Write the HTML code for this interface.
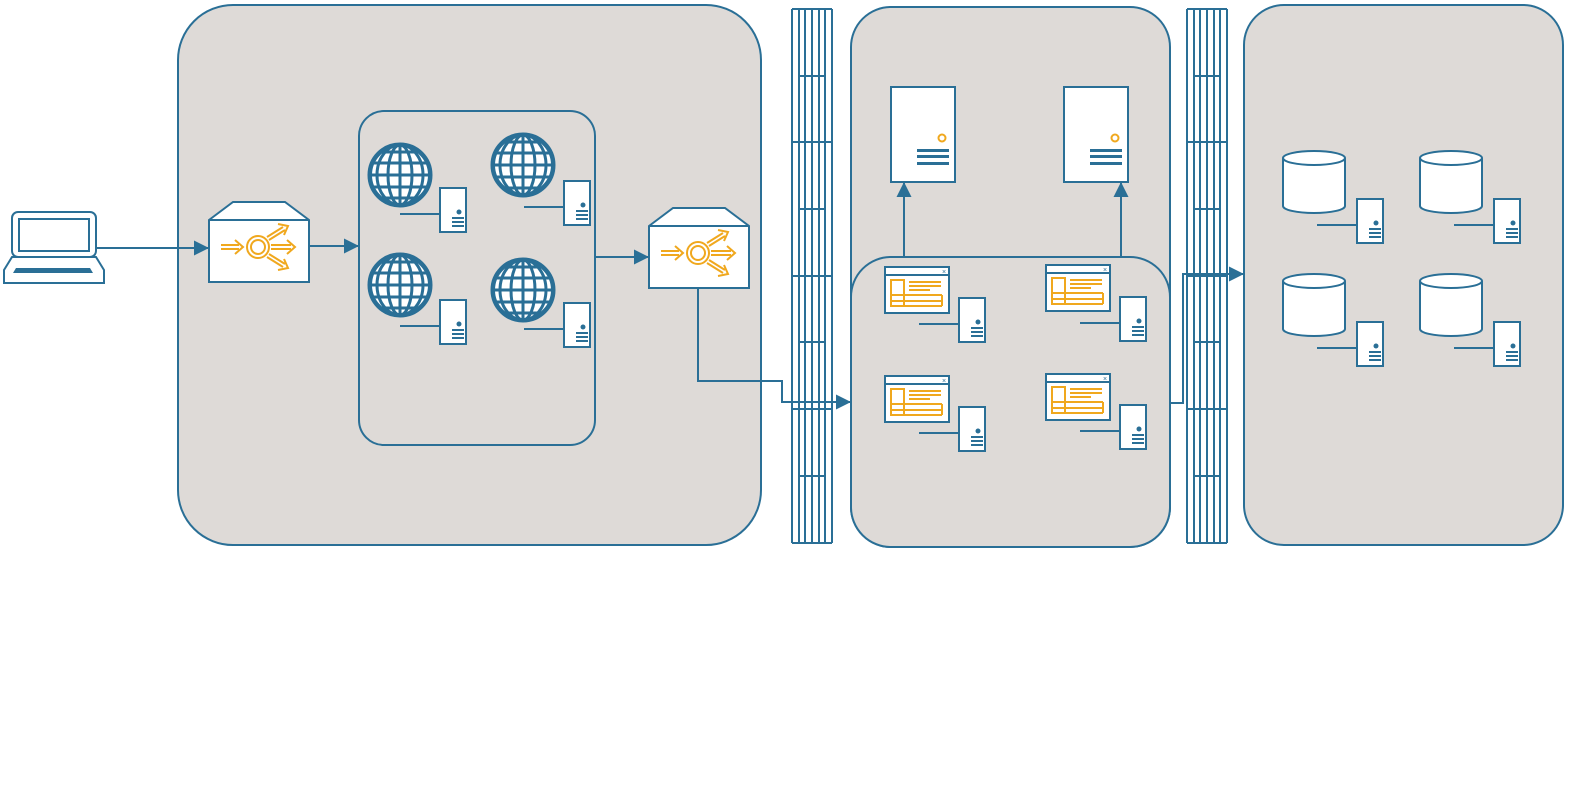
<!DOCTYPE html>
<html><head><meta charset="utf-8"><style>html,body{margin:0;padding:0;background:#fff}svg{display:block}</style></head>
<body>
<svg width="1573" height="809" viewBox="0 0 1573 809" xmlns="http://www.w3.org/2000/svg">
<defs>
<marker id="ar" viewBox="0 0 10 10" refX="10" refY="5" markerWidth="15" markerHeight="15" markerUnits="userSpaceOnUse" orient="auto">
<path d="M0,0 L10,5 L0,10 z" fill="#2a6f96"/></marker>
<g id="srv">
<line x1="-40" y1="26" x2="0" y2="26" stroke="#2a6f96" stroke-width="2"/>
<rect x="0" y="0" width="26" height="44" fill="#fff" stroke="#2a6f96" stroke-width="2"/>
<circle cx="19" cy="24" r="2.5" fill="#2a6f96"/>
<rect x="12" y="29" width="12" height="2" fill="#2a6f96"/>
<rect x="12" y="33" width="12" height="2" fill="#2a6f96"/>
<rect x="12" y="37" width="12" height="2" fill="#2a6f96"/>
</g>
<g id="globe" fill="none" stroke="#2a6f96" stroke-width="3">
<circle cx="0" cy="0" r="31" fill="#fff"/>
<circle cx="0" cy="0" r="30" stroke-width="4"/>
<ellipse cx="0" cy="0" rx="12" ry="30"/>
<ellipse cx="0" cy="0" rx="23" ry="30"/>
<line x1="0" y1="-30" x2="0" y2="30"/>
<line x1="-30" y1="0" x2="30" y2="0"/>
<line x1="-28" y1="-12" x2="28" y2="-12"/>
<line x1="-28" y1="12" x2="28" y2="12"/>
<line x1="-20" y1="-23" x2="20" y2="-23"/>
<line x1="-20" y1="23" x2="20" y2="23"/>
</g>
<g id="lb">
<path d="M0,18 L24,0 L76,0 L100,18 L100,80 L0,80 Z" fill="#fff" stroke="#2a6f96" stroke-width="2"/>
<line x1="0" y1="18" x2="100" y2="18" stroke="#2a6f96" stroke-width="2"/>
<g fill="none" stroke="#f0a81e" stroke-width="2">
<circle cx="49" cy="45" r="11"/><circle cx="49" cy="45" r="7"/>
<path d="M12,43 H30 M12,47 H30 M26,38 L34,45 L26,52"/>
<path d="M62,43 H82 M62,47 H82 M78,38 L86,45 L78,52"/>
<path d="M58,35 L74,25 M60,38 L76,28 M69,22 L79,24 L75,33"/>
<path d="M58,55 L74,65 M60,52 L76,62 M69,68 L79,66 L75,57"/>
</g></g>
<g id="app">
<rect x="0" y="0" width="64" height="46" fill="#fff" stroke="#2a6f96" stroke-width="2"/>
<line x1="0" y1="8" x2="64" y2="8" stroke="#2a6f96" stroke-width="2"/>
<text x="57" y="7" font-size="7" fill="#2a6f96" font-family="Liberation Sans, sans-serif">×</text>
<g fill="none" stroke="#f0a81e" stroke-width="2">
<rect x="6" y="13" width="13" height="26"/>
<line x1="6" y1="28" x2="57" y2="28"/><line x1="6" y1="34" x2="57" y2="34"/>
<line x1="57" y1="28" x2="57" y2="39"/><line x1="6" y1="39" x2="57" y2="39"/>
<line x1="24" y1="15" x2="56" y2="15"/><line x1="24" y1="19" x2="56" y2="19"/><line x1="24" y1="23" x2="45" y2="23"/>
</g></g>
<g id="db">
<path d="M0,8 L0,56 A31,7 0 0 0 62,56 L62,8" fill="#fff" stroke="#2a6f96" stroke-width="2"/>
<ellipse cx="31" cy="8" rx="31" ry="7" fill="#fff" stroke="#2a6f96" stroke-width="2"/>
</g>
<g id="fw" stroke="#2a6f96" stroke-width="2">
<line x1="0" y1="0" x2="0" y2="534"/><line x1="7" y1="0" x2="7" y2="534"/><line x1="13" y1="0" x2="13" y2="534"/>
<line x1="20" y1="0" x2="20" y2="534"/><line x1="27" y1="0" x2="27" y2="534"/><line x1="33" y1="0" x2="33" y2="534"/>
<line x1="40" y1="0" x2="40" y2="534"/>
<line x1="0" y1="0" x2="40" y2="0"/><line x1="0" y1="534" x2="40" y2="534"/>
<line x1="7" y1="67" x2="33" y2="67"/><line x1="0" y1="133" x2="40" y2="133"/>
<line x1="7" y1="200" x2="33" y2="200"/><line x1="0" y1="267" x2="40" y2="267"/>
<line x1="7" y1="333" x2="33" y2="333"/><line x1="0" y1="400" x2="40" y2="400"/>
<line x1="7" y1="467" x2="33" y2="467"/>
</g>
</defs>

<g fill="#dedad7" stroke="#2a6f96" stroke-width="2">
<rect x="178" y="5" width="583" height="540" rx="55"/>
<rect x="359" y="111" width="236" height="334" rx="25"/>
<rect x="851" y="7" width="319" height="540" rx="40"/>
<rect x="851" y="257" width="319" height="290" rx="40"/>
<rect x="1244" y="5" width="319" height="540" rx="40"/>
</g>

<use href="#fw" x="792" y="9"/>
<use href="#fw" x="1187" y="9"/>

<!-- laptop -->
<g fill="#fff" stroke="#2a6f96" stroke-width="2">
<rect x="12" y="212" width="84" height="45" rx="6"/>
<rect x="19" y="219" width="70" height="32"/>
<path d="M12,257 L96,257 L104,270 L104,283 L4,283 L4,270 Z"/>
</g>
<path d="M16,268 L90,268 L93,273 L13,273 Z" fill="#2a6f96"/>

<g stroke="#2a6f96" stroke-width="2" fill="none">
<line x1="96" y1="248" x2="209" y2="248" marker-end="url(#ar)"/>
<line x1="310" y1="246" x2="359" y2="246" marker-end="url(#ar)"/>
<line x1="595" y1="257" x2="649" y2="257" marker-end="url(#ar)"/>
<polyline points="698,288 698,381 782,381 782,402 851,402" marker-end="url(#ar)"/>
<line x1="904" y1="257" x2="904" y2="182" marker-end="url(#ar)"/>
<line x1="1121" y1="257" x2="1121" y2="182" marker-end="url(#ar)"/>
<polyline points="1170,403 1183,403 1183,274 1244,274" marker-end="url(#ar)"/>
</g>

<use href="#lb" x="209" y="202"/>
<use href="#lb" x="649" y="208"/>

<use href="#globe" x="400" y="175"/>
<use href="#globe" x="523" y="165"/>
<use href="#globe" x="400" y="285"/>
<use href="#globe" x="523" y="290"/>
<use href="#srv" x="440" y="188"/>
<use href="#srv" x="564" y="181"/>
<use href="#srv" x="440" y="300"/>
<use href="#srv" x="564" y="303"/>

<!-- big servers -->
<g fill="#fff" stroke="#2a6f96" stroke-width="2">
<rect x="891" y="87" width="64" height="95"/>
<rect x="1064" y="87" width="64" height="95"/>
</g>
<g fill="none" stroke="#f0a81e" stroke-width="2"><circle cx="942" cy="138" r="3.5"/><circle cx="1115" cy="138" r="3.5"/></g>
<g fill="#2a6f96">
<rect x="917" y="149" width="32" height="3"/><rect x="917" y="155" width="32" height="3"/><rect x="917" y="162" width="32" height="3"/>
<rect x="1090" y="149" width="32" height="3"/><rect x="1090" y="155" width="32" height="3"/><rect x="1090" y="162" width="32" height="3"/>
</g>

<use href="#app" x="885" y="267"/>
<use href="#app" x="1046" y="265"/>
<use href="#app" x="885" y="376"/>
<use href="#app" x="1046" y="374"/>
<use href="#srv" x="959" y="298"/>
<use href="#srv" x="1120" y="297"/>
<use href="#srv" x="959" y="407"/>
<use href="#srv" x="1120" y="405"/>

<use href="#db" x="1283" y="150"/>
<use href="#db" x="1420" y="150"/>
<use href="#db" x="1283" y="273"/>
<use href="#db" x="1420" y="273"/>
<use href="#srv" x="1357" y="199"/>
<use href="#srv" x="1494" y="199"/>
<use href="#srv" x="1357" y="322"/>
<use href="#srv" x="1494" y="322"/>
</svg>
</body></html>
